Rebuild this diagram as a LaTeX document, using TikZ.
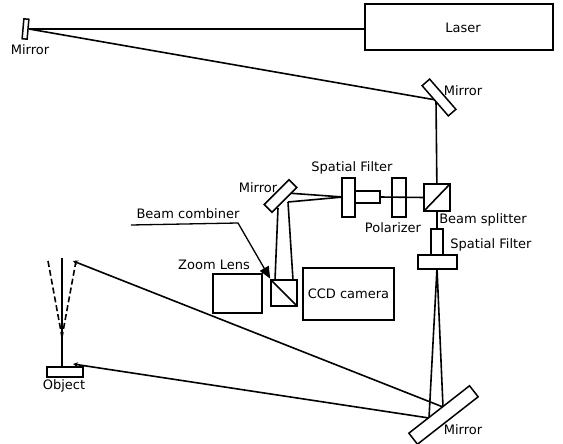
\documentclass[tikz,border=0pt]{standalone}
\usepackage{fontspec}
\setmainfont{DejaVu Sans}
\usetikzlibrary{positioning,arrows.meta,calc}

\begin{document}
\begin{tikzpicture}[
  x=1pt,y=-1pt,
  font=\fontsize{13}{15}\selectfont,
  part/.style={draw=black,line width=1.7pt,fill=white,inner sep=0pt,outer sep=0pt,align=center},
  mirrorbar/.style={part,line width=1.5pt},
  beam/.style={draw=black,line width=1.6pt},
  tag/.style={inner sep=0pt,text=black}
]
\useasboundingbox (0,0) rectangle (563,444);

% Beams first, parts sit on top
\coordinate (mir1hit) at (29,29);
\coordinate (laserhit) at (365,29);
\coordinate (mir2hit) at (436,100);
\coordinate (bs) at (437,197);
\coordinate (sf2apex) at (437,268);
\coordinate (mir4a) at (429,418);
\coordinate (mir4b) at (443,407);
\coordinate (objtop) at (73,364);
\coordinate (focus) at (73,261);
\coordinate (sf1apex) at (343,197);
\coordinate (mir3a) at (287,193);
\coordinate (mir3b) at (288,202);
\coordinate (mir3c) at (278,208);
\coordinate (bc1) at (275,280);
\coordinate (bc2) at (293,280);
\coordinate (imgtop) at (62,258);
\coordinate (imgbot) at (62,367);
\coordinate (imgmid) at (62,337);
\coordinate (dashl) at (48,261);
\coordinate (dashr) at (76,261);

\draw[beam] (mir1hit) -- (laserhit);
\draw[beam] (mir1hit) -- (mir2hit);
\draw[beam] (mir2hit) -- (bs) -- (437,229);
\draw[beam] (sf2apex) -- (mir4a);
\draw[beam] (sf2apex) -- (mir4b);
\draw[beam,-{Stealth[length=5pt,width=5pt]}] (mir4a) -- (objtop);
\draw[beam,-{Stealth[length=5pt,width=5pt]}] (mir4b) -- (focus);
\draw[beam] (sf1apex) -- (mir3a);
\draw[beam] (sf1apex) -- (mir3b);
\draw[beam] (mir3b) -- (bc2);
\draw[beam] (mir3c) -- (bc1);
\draw[beam] (imgtop) -- (imgbot);
\draw[beam,dash pattern=on 6pt off 3pt] (dashl) -- (imgmid);
\draw[beam,dash pattern=on 6pt off 3pt] (dashr) -- (imgmid);
\draw[beam,line width=2.4pt,dash pattern=on 6pt off 2pt] (62,328) -- (62,346);

% Upper row
\node[part,minimum width=188pt,minimum height=46pt] (laser) at (459,27) {};
\node[tag] (lasertxt) at (463,28) {Laser};
\node[mirrorbar,minimum width=20pt,minimum height=5pt,rotate=85] (mir1) at (25.5,29) {};
\node[tag] (mir1txt) at (30,50) {Mirror};
\node[mirrorbar,minimum width=40pt,minimum height=10pt,rotate=-49] (mir2) at (439,97.5) {};
\node[tag] (mir2txt) at (463,91) {Mirror};

% Filter branch
\node[part,minimum width=26pt,minimum height=27pt] (bsbox) at (437,197.5) {};
\draw[beam] (bsbox.south west) -- (bsbox.north east);
\node[tag] (bstxt) at (483,220) {Beam splitter};
\node[part,minimum width=14pt,minimum height=39pt] (pol) at (399,197.5) {};
\draw[beam] (380,197) -- (bsbox.west);
\node[tag] (poltxt) at (393,228) {Polarizer};
\node[part,minimum width=25pt,minimum height=12pt] (sf1tube) at (367.5,197) {};
\node[part,minimum width=13pt,minimum height=39pt] (sf1plate) at (348.5,197.5) {};
\node[tag] (sf1txt) at (352,168) {Spatial Filter};
\node[part,minimum width=12pt,minimum height=26pt] (sf2tube) at (437,242) {};
\node[part,minimum width=39pt,minimum height=14pt] (sf2plate) at (437.5,262) {};
\node[tag] (sf2txt) at (491,245) {Spatial Filter};
\node[mirrorbar,minimum width=35pt,minimum height=11pt,rotate=45] (mir3) at (280.5,196) {};
\node[tag] (mir3txt) at (258,188) {Mirror};

% Camera group
\node[part,minimum width=26pt,minimum height=26pt] (bcbox) at (284,293) {};
\draw[beam] (bcbox.north west) -- (bcbox.south east);
\node[part,minimum width=49pt,minimum height=39pt] (zoom) at (237.5,293.5) {};
\node[tag] (zoomtxt) at (214,265) {Zoom Lens};
\node[part,minimum width=91pt,minimum height=52pt] (ccd) at (348.5,294) {CCD camera};
\node[tag] (bctxt) at (188,214) {Beam combiner};
\coordinate (bcfrom) at (131,225);
\coordinate (bcknee) at (238,223);
\draw[line width=1.3pt,-{Stealth[length=12pt,width=10pt,inset=0pt]},shorten >=1.5pt] (bcfrom) -- (bcknee) -- (bcbox.north west);

% Object and big mirror
\node[part,minimum width=36pt,minimum height=10pt] (obj) at (65,372) {};
\node[tag] (objtxt) at (64,386) {Object};
\node[mirrorbar,minimum width=77pt,minimum height=14pt,rotate=38] (mir4) at (443.5,415) {};
\node[tag] (mir4txt) at (463,430) {Mirror};

\end{tikzpicture}
\end{document}
